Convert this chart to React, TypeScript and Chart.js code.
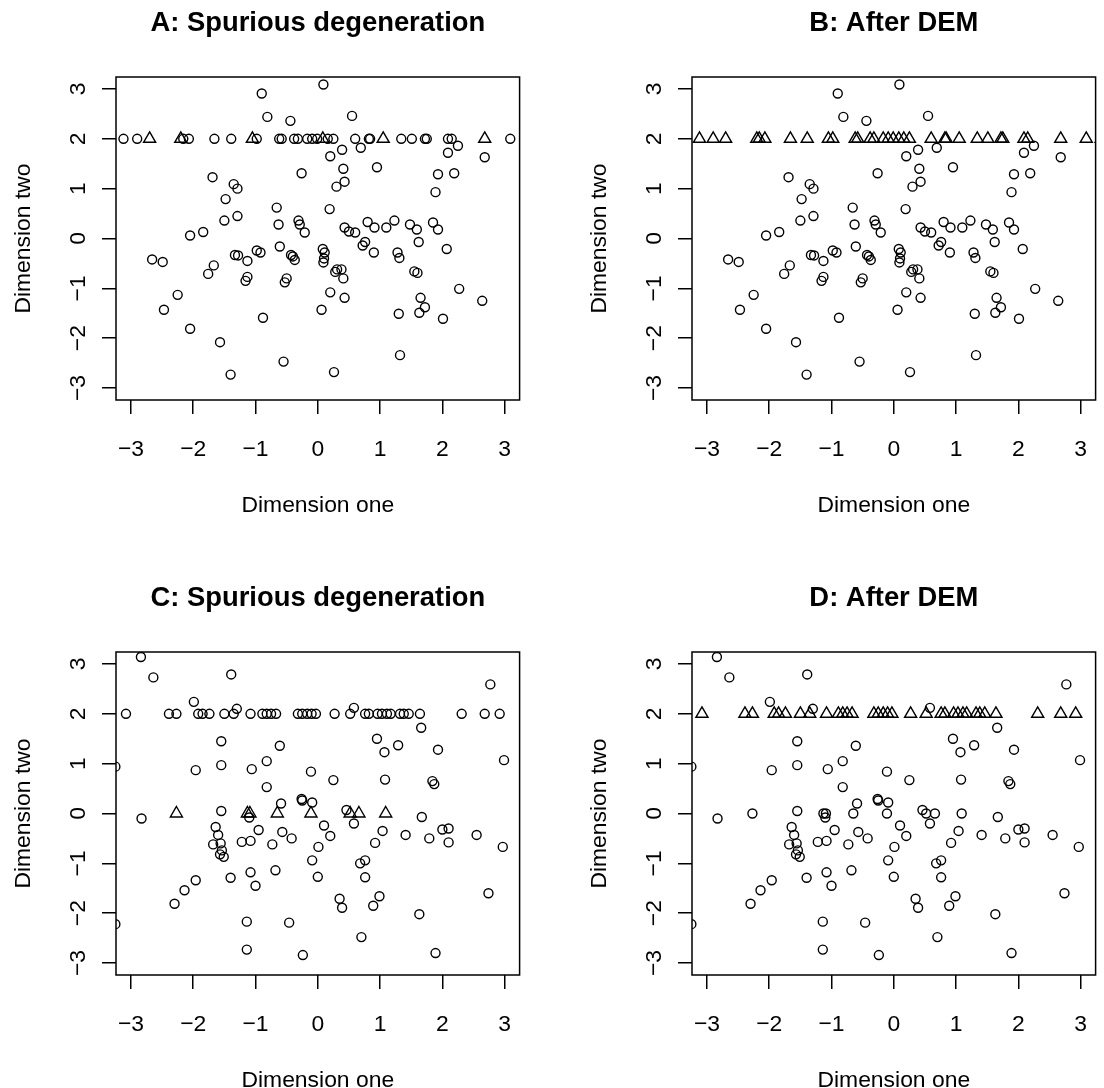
import { useEffect, useRef } from "react";
import { Chart, registerables } from "chart.js";

Chart.register(...registerables);

const FONT = '"Liberation Sans", Arial, Helvetica, sans-serif';

// ---- axis setup ----
const tickValues = [-3, -2, -1, 0, 1, 2, 3];
const tickLabels = ["\u22123", "\u22122", "\u22121", "0", "1", "2", "3"];
const axisMin = -3.24;
const axisMax = 3.24;
const xTitle = "Dimension one";
const yTitle = "Dimension two";
const panelTitles = [
  "A: Spurious degeneration",
  "B: After DEM",
  "C: Spurious degeneration",
  "D: After DEM",
];

// value of the degenerate dimension-two coordinate
const degenerateY = 2;
// value where spurious points of panel C sit
const zeroY = 0;

// ---- panels A and B: points shared by both (not on the degenerate row) ----
const abCircles: [number, number][] = [
  [-0.90, 2.91], [-0.81, 2.44], [-0.44, 2.36], [-0.26, 1.31], [-1.69, 1.23],
  [-1.35, 1.09], [-1.29, 1.00], [-1.48, 0.79], [-0.66, 0.62], [-1.29, 0.45],
  [-1.50, 0.36], [-0.63, 0.28], [-0.31, 0.36], [-0.29, 0.28], [-0.21, 0.12],
  [-1.84, 0.13], [-2.05, 0.06], [-2.66, -0.42], [-2.49, -0.47], [-1.33, -0.33],
  [-1.28, -0.34], [-1.13, -0.45], [-0.98, -0.24], [-0.92, -0.28], [-0.61, -0.16],
  [-0.43, -0.33], [-0.40, -0.36], [-0.37, -0.43], [-1.67, -0.54], [-1.76, -0.71],
  [-1.13, -0.77], [-1.16, -0.85], [-0.50, -0.80], [-0.53, -0.88], [-2.25, -1.13],
  [-2.47, -1.43], [-0.88, -1.59], [-2.05, -1.81], [-1.57, -2.08], [-0.55, -2.47],
  [-1.40, -2.73],
  [0.09, 3.09], [0.55, 2.46], [0.39, 1.78], [0.20, 1.65], [0.69, 1.82],
  [0.41, 1.40], [0.95, 1.43], [0.30, 1.04], [0.43, 1.14], [2.09, 1.72],
  [2.25, 1.86], [2.68, 1.63], [1.93, 1.29], [2.19, 1.31], [1.89, 0.93],
  [0.19, 0.59], [0.43, 0.22], [0.50, 0.14], [0.60, 0.12], [0.80, 0.33],
  [0.91, 0.22], [1.10, 0.22], [1.23, 0.36], [1.48, 0.28], [1.59, 0.18],
  [1.62, -0.07], [1.85, 0.32], [1.93, 0.18], [0.76, -0.07], [0.72, -0.14],
  [0.90, -0.28], [1.28, -0.28], [1.31, -0.39], [2.07, -0.21], [0.08, -0.21],
  [0.11, -0.28], [0.10, -0.40], [0.09, -0.48], [0.31, -0.62], [0.38, -0.62],
  [0.28, -0.67], [0.41, -0.80], [1.55, -0.66], [1.60, -0.69], [0.20, -1.08],
  [0.43, -1.19], [0.06, -1.43], [1.30, -1.51], [1.65, -1.19], [1.72, -1.38],
  [1.63, -1.49], [2.01, -1.61], [2.27, -1.01], [2.64, -1.25], [1.32, -2.34],
  [0.26, -2.68],
];
// dimension-one values of the degenerate row in panel A (circles / triangles)
const aRowCircleX = [
  -3.12, -2.90, -2.16, -2.07, -1.66, -1.39, -0.98, -0.62, -0.58, -0.38, -0.32,
  -0.17, -0.09, -0.01, 0.16, 0.25, 0.60, 0.82, 0.84, 1.34, 1.51, 1.72, 1.75,
  2.09, 2.15, 3.09, 3.33,
];
const aRowTriangleX = [-2.70, -2.20, -1.05, 0.08, 1.05, 2.68];

// ---- panels C and D: points shared by both ----
const cdCircles: [number, number][] = [
  [-2.84, 3.14], [-2.64, 2.73], [-1.39, 2.79], [-1.99, 2.24], [-1.30, 2.10],
  [-1.55, 1.45], [-0.61, 1.36], [-0.82, 1.05], [-3.25, 0.94], [-1.96, 0.87],
  [-1.55, 0.97], [-1.06, 0.89], [-0.82, 0.53], [-0.26, 0.29], [-0.25, 0.26],
  [-0.59, 0.20], [-2.83, -0.10], [-1.10, -0.08], [-1.55, 0.05], [-1.64, -0.27],
  [-1.60, -0.43], [-1.68, -0.62], [-1.56, -0.60], [-1.54, -0.74], [-1.57, -0.82],
  [-1.51, -0.87], [-1.22, -0.57], [-1.08, -0.55], [-0.95, -0.33], [-0.73, -0.62],
  [-0.57, -0.37], [-0.42, -0.50], [-1.40, -1.29], [-1.08, -1.18], [-1.00, -1.45],
  [-0.68, -1.14], [-1.96, -1.34], [-2.14, -1.54], [-2.30, -1.81], [-1.14, -2.17],
  [-0.46, -2.19], [-1.14, -2.73], [-0.24, -2.84], [-3.25, -2.22],
  [0.58, 2.12], [2.77, 2.59], [1.66, 1.72], [0.95, 1.50], [1.07, 1.23],
  [1.29, 1.37], [1.93, 1.28], [2.99, 1.07], [-0.11, 0.84], [0.25, 0.67],
  [1.08, 0.68], [1.84, 0.65], [1.87, 0.59], [-0.09, 0.22], [0.46, 0.07],
  [0.58, -0.20], [1.04, -0.35], [1.67, -0.07], [0.10, -0.24], [0.20, -0.45],
  [0.92, -0.59], [1.41, -0.43], [1.79, -0.50], [2.00, -0.32], [2.10, -0.30],
  [2.10, -0.58], [2.55, -0.43], [2.97, -0.67], [0.01, -0.67], [-0.09, -0.94],
  [0.00, -1.27], [0.68, -1.00], [0.76, -0.94], [0.76, -1.28], [0.35, -1.71],
  [0.39, -1.89], [0.99, -1.66], [0.89, -1.85], [1.63, -2.02], [2.74, -1.60],
  [0.70, -2.48], [1.89, -2.80],
];
// dimension-one values of the degenerate row in panel C
const cRowX = [
  -3.08, -2.39, -2.27, -1.92, -1.85, -1.74, -1.50, -1.35, -1.08, -0.89, -0.82,
  -0.75, -0.67, -0.32, -0.25, -0.17, -0.10, -0.03, 0.27, 0.52, 0.76, 0.82,
  0.96, 1.03, 1.11, 1.17, 1.32, 1.38, 1.46, 1.64, 2.31, 2.68, 2.92,
];
// dimension-one values of the points at zero in panel C (triangles in C)
const cZeroX = [-2.27, -1.13, -1.09, -0.65, -0.11, 0.52, 0.66, 1.09];

type Pt = { x: number; y: number };
const pairs = (arr: [number, number][]): Pt[] => arr.map(([x, y]) => ({ x, y }));
const onRow = (xs: number[], y: number): Pt[] => xs.map((x) => ({ x, y }));

const CANVAS_W = 528;
const CANVAS_H = 575;

function Panel(props: {
  left: number;
  top: number;
  title: string;
  circles: Pt[];
  triangles: Pt[];
}) {
  const ref = useRef<HTMLCanvasElement | null>(null);
  useEffect(() => {
    const canvas = ref.current;
    if (!canvas) return;
    const title = props.title;
    const framePlugin = {
      id: "rframe",
      afterDraw(chart: any) {
        const { ctx, chartArea: a, scales } = chart;
        ctx.save();
        ctx.strokeStyle = "#000";
        ctx.lineWidth = 1.5;
        ctx.strokeRect(a.left, a.top, a.right - a.left, a.bottom - a.top);
        ctx.fillStyle = "#000";
        ctx.font = `22.9px ${FONT}`;
        ctx.textAlign = "center";
        ctx.textBaseline = "alphabetic";
        tickValues.forEach((v, i) => {
          ctx.fillText(tickLabels[i], scales.x.getPixelForValue(v), a.bottom + 55.5);
        });
        tickValues.forEach((v, i) => {
          ctx.save();
          ctx.translate(a.left - 31.5, scales.y.getPixelForValue(v));
          ctx.rotate(-Math.PI / 2);
          ctx.fillText(tickLabels[i], 0, 0);
          ctx.restore();
        });
        ctx.fillText(xTitle, (a.left + a.right) / 2, a.bottom + 112);
        ctx.save();
        ctx.translate(a.left - 86, (a.top + a.bottom) / 2);
        ctx.rotate(-Math.PI / 2);
        ctx.fillText(yTitle, 0, 0);
        ctx.restore();
        ctx.font = `bold 27.4px ${FONT}`;
        ctx.fillText(title, (a.left + a.right) / 2, a.top - 46);
        ctx.restore();
      },
    };
    const axisCommon = {
      type: "linear" as const,
      min: axisMin,
      max: axisMax,
      afterBuildTicks: (s: any) => {
        s.ticks = tickValues.map((v) => ({ value: v }));
      },
      grid: {
        drawOnChartArea: false,
        drawTicks: true,
        tickLength: 14,
        color: "#000",
        lineWidth: 1.5,
      },
      border: { display: false },
      ticks: { display: false },
    };
    const chart = new Chart(canvas, {
      type: "scatter",
      data: {
        datasets: [
          {
            data: props.circles,
            pointStyle: "circle",
            pointRadius: 4.5,
            pointBorderWidth: 1.4,
            borderColor: "#000",
            backgroundColor: "rgba(0,0,0,0)",
          },
          {
            data: props.triangles,
            pointStyle: "triangle",
            pointRadius: 7,
            pointBorderWidth: 1.4,
            borderColor: "#000",
            backgroundColor: "rgba(0,0,0,0)",
          },
        ],
      },
      options: {
        responsive: false,
        animation: false,
        events: [],
        layout: { padding: { top: 77, right: 6.5, left: 0, bottom: 0 } },
        plugins: {
          legend: { display: false },
          tooltip: { enabled: false },
          title: { display: false },
        },
        scales: {
          x: {
            ...axisCommon,
            position: "bottom",
            afterFit: (s: any) => {
              s.height = 175;
            },
          },
          y: {
            ...axisCommon,
            position: "left",
            afterFit: (s: any) => {
              s.width = 116;
            },
          },
        },
      } as any,
      plugins: [framePlugin],
    });
    return () => chart.destroy();
  }, []);
  return (
    <canvas
      ref={ref}
      width={CANVAS_W}
      height={CANVAS_H}
      style={{
        position: "absolute",
        left: props.left,
        top: props.top,
        width: CANVAS_W,
        height: CANVAS_H,
      }}
    />
  );
}

export default function App() {
  const aCircles = [...pairs(abCircles), ...onRow(aRowCircleX, degenerateY)];
  const aTriangles = onRow(aRowTriangleX, degenerateY);
  const bCircles = pairs(abCircles);
  const bTriangles = onRow([...aRowCircleX, ...aRowTriangleX], degenerateY);
  const cCircles = [...pairs(cdCircles), ...onRow(cRowX, degenerateY)];
  const cTriangles = onRow(cZeroX, zeroY);
  const dCircles = [...pairs(cdCircles), ...onRow(cZeroX, zeroY)];
  const dTriangles = onRow(cRowX, degenerateY);
  return (
    <div
      style={{
        position: "fixed",
        left: 0,
        top: 0,
        width: 1104,
        height: 1088,
        overflow: "hidden",
        background: "#fff",
      }}
    >
      <Panel left={0} top={0} title={panelTitles[0]} circles={aCircles} triangles={aTriangles} />
      <Panel left={576} top={0} title={panelTitles[1]} circles={bCircles} triangles={bTriangles} />
      <Panel left={0} top={575} title={panelTitles[2]} circles={cCircles} triangles={cTriangles} />
      <Panel left={576} top={575} title={panelTitles[3]} circles={dCircles} triangles={dTriangles} />
    </div>
  );
}
